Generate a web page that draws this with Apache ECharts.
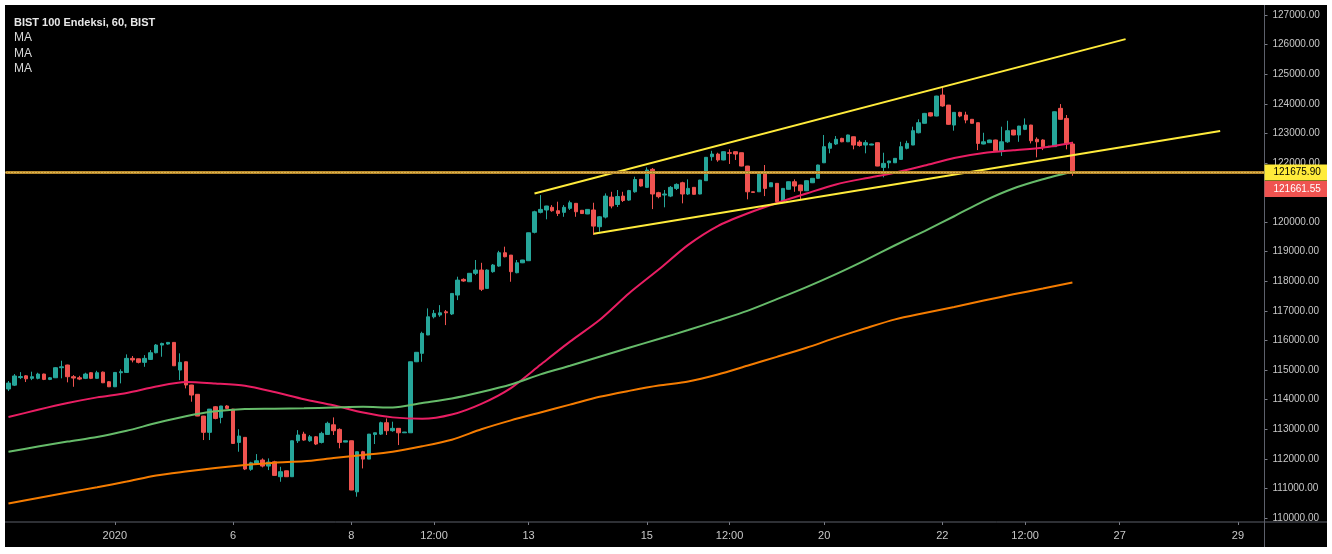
<!DOCTYPE html>
<html><head><meta charset="utf-8">
<script src="https://cdn.jsdelivr.net/npm/echarts@6/dist/echarts.min.js"></script>
<style>
html,body{margin:0;padding:0;background:#ffffff;width:1332px;height:554px;overflow:hidden;}
#frame{position:absolute;left:5px;top:5px;width:1322px;height:542px;background:#000000;}
#chart{width:1322px;height:542px;}
</style></head><body>
<div id="frame"><div id="chart"></div></div>
<script>
// ---- data ----
const slotCount = 213;               // bar slots on the time axis (incl. empty future)
const tickIdx  = [18, 38, 58, 72, 88, 108, 122, 138, 158, 172, 188, 208];
const tickText = ['2020', '6', '8', '12:00', '13', '15', '12:00', '20', '22', '12:00', '27', '29'];

const opens = [114360,114490,114745,114805,114720,114720,114865,114685,114740,115080,115170,114775,114740,114720,114910,114720,114930,114605,114435,114910,114920,115395,115380,115260,115360,115585,115845,115880,115935,115000,115280,114495,114180,113445,112895,113760,113400,113785,113680,112555,112725,111645,111845,111960,111755,111900,111395,111595,111395,112610,112835,112610,112745,112555,112825,113150,112995,112565,112610,110885,112240,111990,112825,112835,113220,112950,113030,112880,112880,115280,115565,116185,116800,116860,116970,116895,117535,118065,117985,118270,118380,117760,118325,118515,118965,118885,118290,118625,118695,119655,120330,120410,120500,120385,120330,120465,120635,120400,120275,120410,119845,120170,120845,120595,120880,120745,121025,121445,121175,121785,120995,120915,120880,121140,121330,120950,121175,120950,121400,122210,122300,122100,122345,122380,122345,121895,121025,121025,121650,121195,121310,120690,121110,121365,121255,121060,121330,121480,122005,122495,122640,122830,122715,122885,122705,122605,122605,122685,121850,122005,122005,122120,122495,122605,123020,123340,123695,123585,124295,123955,123280,123710,123620,123475,123360,122640,122685,122775,122410,122715,123110,122945,123135,123280,122800,122775,122550,122550,123845,123505,122640];
const closes = [114560,114800,114780,114705,114775,114865,114685,114740,115080,115110,114775,114730,114695,114865,114720,114910,114570,114435,114920,114945,115395,115340,115260,115395,115585,115845,115900,115935,115145,115260,114495,114155,113445,112895,113680,113365,113785,113705,112520,112770,111655,111865,111935,111755,111890,111440,111565,111395,112610,112805,112635,112745,112500,112860,113200,112950,112555,112610,110945,112240,111990,112835,112880,113220,112950,113030,112880,112905,115280,115600,116240,116800,116915,116935,116935,117590,118040,118010,118270,118380,117730,118380,118550,118965,118830,118325,118625,118720,119640,120350,120430,120545,120385,120295,120500,120655,120350,120290,120430,119865,120180,120880,120545,120865,120730,121065,121440,121220,121760,120950,120860,120950,121175,121275,120950,121140,120940,121420,122190,122300,122100,122380,122325,122300,121895,121025,121005,121650,121140,121330,120690,121140,121365,121220,121060,121400,121480,121930,122550,122660,122800,122715,122945,122605,122590,122685,122640,121895,121985,122065,122155,122550,122660,123090,123360,123675,123585,124260,123925,123305,123710,123585,123450,123340,122660,122715,122775,122410,122715,123090,122945,123245,123280,122750,122715,122550,122560,123730,123475,122640,121661.55];
const lows   = [114290,114460,114695,114595,114660,114685,114660,114660,114730,114720,114585,114435,114660,114695,114695,114705,114560,114425,114425,114550,114910,115260,115225,115110,115340,115565,115450,115860,115140,114660,114380,113930,113440,112635,112635,113335,113200,113680,112510,112240,111620,111595,111790,111710,111620,111440,111225,111390,111390,112535,112610,112575,112465,112520,112805,112805,112355,112560,110940,110720,111675,111985,112500,112805,112805,112915,112465,112875,112875,115270,115280,116180,116745,116800,116520,116860,117365,117985,117980,118210,117670,117750,118290,118490,118810,117985,118270,118615,118690,119620,120295,120095,120350,120205,120180,120410,120180,120280,120270,119565,119675,120125,120465,120510,120680,120720,120995,121200,121160,120440,120805,120500,120845,121085,120635,120915,120930,120940,121390,122075,122040,122090,121965,122100,121885,120770,121000,121020,120880,121190,120680,120635,121100,121025,120745,121050,121320,121470,121995,122325,122605,122700,122705,122460,122550,122325,122600,121890,121515,121820,122000,122100,122460,122600,123000,123330,123570,123575,123900,123290,123090,123545,123340,123330,122435,122630,122675,122400,122235,122680,122935,122715,123110,122660,122190,122435,122530,122540,123465,122460,121565];
const highs  = [114630,114865,114930,114830,114945,114910,114880,114765,115100,115315,115180,114830,114805,114910,114930,114975,114950,114630,114930,115025,115530,115475,115385,115505,115675,115880,115925,115945,115945,115565,115285,114500,114185,113450,113685,113785,113790,113815,113690,113000,112730,111900,112160,112015,112015,111935,111730,111600,112615,112970,112915,112805,112770,112915,113255,113400,113030,112615,112615,112245,112270,112840,112885,113255,113365,113255,113035,112910,115285,115605,116295,117085,117030,117195,117030,117595,118155,118100,118275,118720,118625,118405,118585,119030,119170,118890,118720,118725,119645,120385,120915,120550,120575,120690,120575,120725,120640,120410,120440,120655,120205,120970,121025,121085,121025,121090,121535,121460,121850,121830,121025,121085,121220,121310,121365,121445,121180,121430,122200,122410,122345,122390,122460,122385,122350,121900,121030,121655,121930,121340,121320,121150,121375,121445,121260,121410,121490,121940,122945,122715,122910,122850,122955,122890,122770,122770,122650,122690,122345,122075,122165,122715,122750,123225,123475,123690,123710,124270,124555,123960,123720,123730,123730,123485,123365,123020,122785,122785,123225,123425,123120,123255,123505,123290,122865,122800,122580,123740,123990,123620,122715];

// moving averages, read at every 5th bar
const maIdx    = [0,5,10,15,20,25,30,35,40,45,50,55,60,65,70,75,80,85,90,95,100,105,110,115,120,125,130,135,140,145,150,155,160,165,170,175,180];
const maRed    = [113411,113658,113885,114077,114226,114446,114598,114544,114466,114256,114013,113810,113563,113401,113351,113496,113858,114392,115179,115960,116690,117596,118397,119232,119867,120290,120645,120966,121273,121483,121669,121912,122166,122335,122429,122514,122679];
const maGreen  = [112239,112414,112583,112735,112948,113209,113438,113604,113682,113692,113709,113732,113756,113732,113885,114037,114256,114510,114855,115145,115450,115754,116048,116352,116670,117001,117396,117805,118245,118718,119218,119698,120198,120712,121138,121449,121703];
const maOrange = [110488,110677,110859,111042,111231,111437,111569,111688,111789,111870,111917,112026,112127,112242,112424,112644,112999,113300,113567,113831,114098,114297,114476,114611,114848,115145,115446,115754,116095,116413,116714,116927,117129,117349,117559,117755,117961];

// drawn trend lines: [barIndex, price]
const upperTrend = [[89, 120966], [189, 126184]];
const lowerTrend = [[99, 119604], [205, 123078]];
const hLinePrice = 121675.90;
const lastPrice  = 121661.55;

const titleText = 'BIST 100 Endeksi, 60, BIST';
const maLabels = ['MA', 'MA', 'MA'];

// ---- chart ----
const FONT = '"Liberation Sans", Arial, sans-serif';
const categories = Array.from({length: slotCount}, (_, i) => String(i));
const tickMap = new Map(tickIdx.map((v, k) => [v, tickText[k]]));
const candleData = opens.map((o, i) => [o, closes[i], lows[i], highs[i]]);
const maSeries = (arr) => maIdx.map((i, k) => [i, arr[k]]);

const chart = echarts.init(document.getElementById('chart'), null, {renderer: 'canvas'});
const option = {
  backgroundColor: 'transparent',
  animation: false,
  grid: {left: 0.5, right: 62.5, top: 10, bottom: 29, containLabel: false, outerBoundsMode: 'none'},
  xAxis: {
    type: 'category', data: categories, boundaryGap: true, offset: 4,
    axisLine: {show: false},
    axisTick: {show: true, alignWithLabel: true, length: 3, interval: (i) => tickMap.has(i), lineStyle: {color: '#7a7d86'}},
    axisLabel: {interval: (i) => tickMap.has(i), formatter: (v, i) => tickMap.get(Number(v)) || '', color: '#c8c8c8', fontSize: 11, margin: 8, fontFamily: FONT},
    splitLine: {show: false}
  },
  yAxis: {
    type: 'value', position: 'right', min: 110000, max: 127000, interval: 1000,
    axisLine: {show: false},
    axisTick: {show: true, length: 3, lineStyle: {color: '#7a7d86'}},
    axisLabel: {formatter: (v) => v.toFixed(2), color: '#c8c8c8', fontSize: 10, margin: 8, fontFamily: FONT},
    splitLine: {show: false}
  },
  series: [
    {
      type: 'candlestick', data: candleData, barWidth: 4, z: 2,
      itemStyle: {color: '#26a69a', color0: '#ef5350', borderColor: '#26a69a', borderColor0: '#ef5350', borderWidth: 1},
      markLine: {
        symbol: 'none', silent: true, animation: false, label: {show: false},
        data: [
          {yAxis: hLinePrice, lineStyle: {color: '#b8892c', width: 3, type: 'solid'}},
          {yAxis: hLinePrice, lineStyle: {color: '#ffe27a', width: 1, type: [1, 2]}}
        ]
      }
    },
    {type: 'line', data: maSeries(maRed), showSymbol: false, smooth: 0.25, z: 3, lineStyle: {color: '#e91e63', width: 2}},
    {type: 'line', data: maSeries(maGreen), showSymbol: false, smooth: 0.25, z: 3, lineStyle: {color: '#66bb6a', width: 2}},
    {type: 'line', data: maSeries(maOrange), showSymbol: false, smooth: 0.25, z: 3, lineStyle: {color: '#f57c00', width: 2}},
    {type: 'line', data: upperTrend, showSymbol: false, z: 4, lineStyle: {color: '#ffeb3b', width: 2}},
    {type: 'line', data: lowerTrend, showSymbol: false, z: 4, lineStyle: {color: '#ffeb3b', width: 2}}
  ]
};
chart.setOption(option);

// overlays computed from the library's own scale
const W = 1322, H = 542;
const axisX = 1259.5, axisY = 517;
const yH = chart.convertToPixel({yAxisIndex: 0}, hLinePrice);
const boxH = 16;
const yRed = yH + boxH + 0.5;
const graphics = [
  {type: 'line', shape: {x1: axisX, y1: 0, x2: axisX, y2: H}, style: {stroke: '#5d606b', lineWidth: 1}, z: 50},
  {type: 'line', shape: {x1: 0, y1: axisY, x2: W, y2: axisY}, style: {stroke: '#5d606b', lineWidth: 1}, z: 50},
  {type: 'rect', shape: {x: axisX, y: yH - boxH / 2, width: W - axisX, height: boxH}, style: {fill: '#ffeb3b'}, z: 60},
  {type: 'text', x: axisX + 9, y: yH, style: {text: hLinePrice.toFixed(2), fill: '#000000', font: '10px ' + FONT, verticalAlign: 'middle'}, z: 61},
  {type: 'rect', shape: {x: axisX, y: yRed - boxH / 2, width: W - axisX, height: boxH}, style: {fill: '#ef5350'}, z: 60},
  {type: 'text', x: axisX + 9, y: yRed, style: {text: lastPrice.toFixed(2), fill: '#ffffff', font: '10px ' + FONT, verticalAlign: 'middle'}, z: 61},
  {type: 'text', x: 9, y: 17.5, style: {text: titleText, fill: '#e8e8e8', font: 'bold 11px ' + FONT, verticalAlign: 'middle'}, z: 61}
];
maLabels.forEach((t, k) => graphics.push({type: 'text', x: 9, y: 32.5 + k * 15.7, style: {text: t, fill: '#d8d8d8', font: '12px ' + FONT, verticalAlign: 'middle'}, z: 61}));
chart.setOption({graphic: graphics});
</script>
</body></html>
